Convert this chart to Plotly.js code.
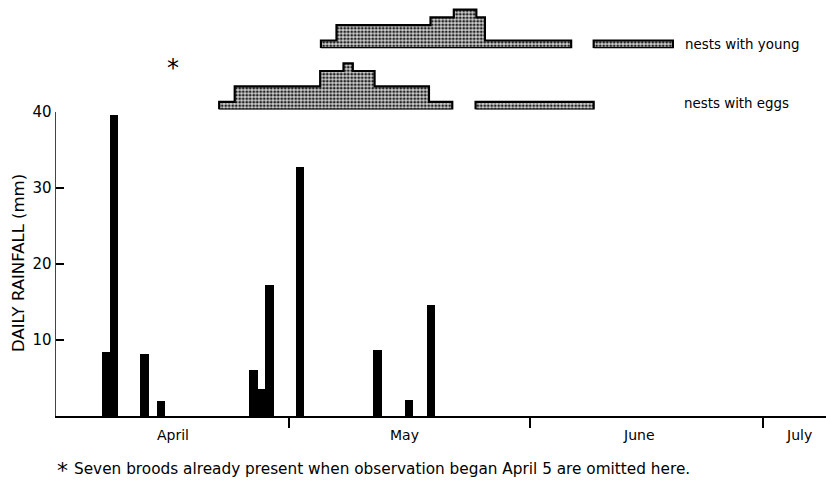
<!DOCTYPE html>
<html>
<head>
<meta charset="utf-8">
<script src="https://cdn.plot.ly/plotly-3.0.1.min.js"></script>
<style>html,body{margin:0;padding:0;background:#fff;}#chart{width:826px;height:483px;}</style>
</head>
<body>
<div id="chart"></div>
<script>
// Day offsets from April 1 (day 0)
const rainDays = [6.4, 7.5, 11.4, 13.5, 25.4, 26.5, 27.5, 31.4, 41.4, 45.4, 48.3];
const rainMm   = [8.4, 39.6, 8.1, 2.0, 6.1, 3.5, 17.3, 32.7, 8.7, 2.1, 14.6];

const monthNames = ['April', 'May', 'June', 'July'];
const monthLabelDays = [15, 44.9, 75, 95.6];
const monthBoundaries = [30, 61, 91];

// Nests with eggs: step edges (days) and counts between edges
const eggsEdges1 = [21, 23, 34, 37, 38.2, 41, 48, 51];
const eggsCounts1 = [1, 3, 5, 6, 5, 3, 1];
const eggsEdges2 = [54, 69.2];
const eggsCounts2 = [1];
// Nests with young
const youngEdges1 = [34.1, 36.1, 48.2, 51.2, 54.1, 55.2, 66.3];
const youngCounts1 = [1, 3, 4, 5, 4, 1];
const youngEdges2 = [69.2, 79.4];
const youngCounts2 = [1];

function stepPolygon(edges, counts) {
  const xs = [edges[0]], ys = [0];
  for (let i = 0; i < counts.length; i++) {
    xs.push(edges[i], edges[i + 1]);
    ys.push(counts[i], counts[i]);
  }
  xs.push(edges[edges.length - 1], edges[0]);
  ys.push(0, 0);
  return {x: xs, y: ys};
}

const pattern = {shape: '.', fgcolor: '#222', bgcolor: '#d0d0d0', size: 3.5, solidity: 0.5};

function stepTrace(edges, counts, yaxis) {
  const p = stepPolygon(edges, counts);
  return {
    type: 'scatter', mode: 'lines', x: p.x, y: p.y, yaxis: yaxis,
    fill: 'toself', fillcolor: '#999', fillpattern: pattern,
    line: {color: '#000', width: 2.2}, hoverinfo: 'skip', showlegend: false
  };
}

const traces = [
  {type: 'bar', x: rainDays, y: rainMm, width: 1.08,
   marker: {color: '#000', line: {width: 0}}, showlegend: false},
  stepTrace(eggsEdges1, eggsCounts1, 'y2'),
  stepTrace(eggsEdges2, eggsCounts2, 'y2'),
  stepTrace(youngEdges1, youngCounts1, 'y3'),
  stepTrace(youngEdges2, youngCounts2, 'y3')
];

const font = 'DejaVu Sans, Arial, sans-serif';
const L = 56, W = 826 - 56, H = 416;
function py(px) { return (H - px) / H; }
function pxX(px) { return (px - L) / W; }

const annotations = monthNames.map((m, i) => ({
  text: m, x: monthLabelDays[i], xref: 'x', y: py(435), yref: 'paper',
  xanchor: 'center', yanchor: 'middle',
  showarrow: false, font: {size: 14, color: '#000', family: font}
}));

function paperAnn(text, x, y, xanchor, size, extra) {
  return Object.assign({
    text: text, x: pxX(x), xref: 'paper', y: py(y), yref: 'paper',
    xanchor: xanchor, yanchor: 'middle', showarrow: false,
    font: {size: size, color: '#000', family: font}
  }, extra || {});
}

annotations.push(
  paperAnn('DAILY RAINFALL (mm)', 18, 263, 'center', 16.5, {textangle: -90}),
  paperAnn('nests with young', 683, 45, 'left', 13.4),
  paperAnn('nests with eggs', 682, 103, 'left', 13.4),
  paperAnn('*', 173, 68, 'center', 24),
  paperAnn('*', 62, 470, 'center', 22),
  paperAnn('Seven broods already present when observation began April 5 are omitted here.', 72, 469, 'left', 15.3)
);

const layout = {
  width: 826, height: 483,
  margin: {l: L, r: 0, t: 0, b: 67},
  paper_bgcolor: '#fff', plot_bgcolor: 'rgba(0,0,0,0)',
  showlegend: false,
  bargap: 0,
  xaxis: {
    range: [0, 99.1], showgrid: false, zeroline: false,
    showline: true, linecolor: '#000', linewidth: 2,
    tickvals: monthBoundaries, ticktext: ['', '', ''],
    ticks: 'outside', ticklen: 10, tickwidth: 2, tickcolor: '#000',
    fixedrange: true
  },
  yaxis: {
    domain: [0, py(112)], range: [0, 40], showgrid: false, zeroline: false,
    showline: true, linecolor: '#444', linewidth: 1.5,
    tickvals: [10, 20, 30, 40], ticks: 'inside', ticklen: 8, tickwidth: 1.5, tickcolor: '#000',
    tickfont: {size: 15, color: '#000', family: font}
  },
  yaxis2: {
    domain: [py(109.5), py(109.5 - 7.7 * 13)], range: [0, 13], anchor: 'x',
    visible: false, showgrid: false, zeroline: false
  },
  yaxis3: {
    domain: [py(48.2), py(48.2 - 7.7 * 6)], range: [0, 6], anchor: 'x',
    visible: false, showgrid: false, zeroline: false
  },
  annotations: annotations
};

Plotly.newPlot('chart', traces, layout, {displayModeBar: false, staticPlot: true});
</script>
</body>
</html>
